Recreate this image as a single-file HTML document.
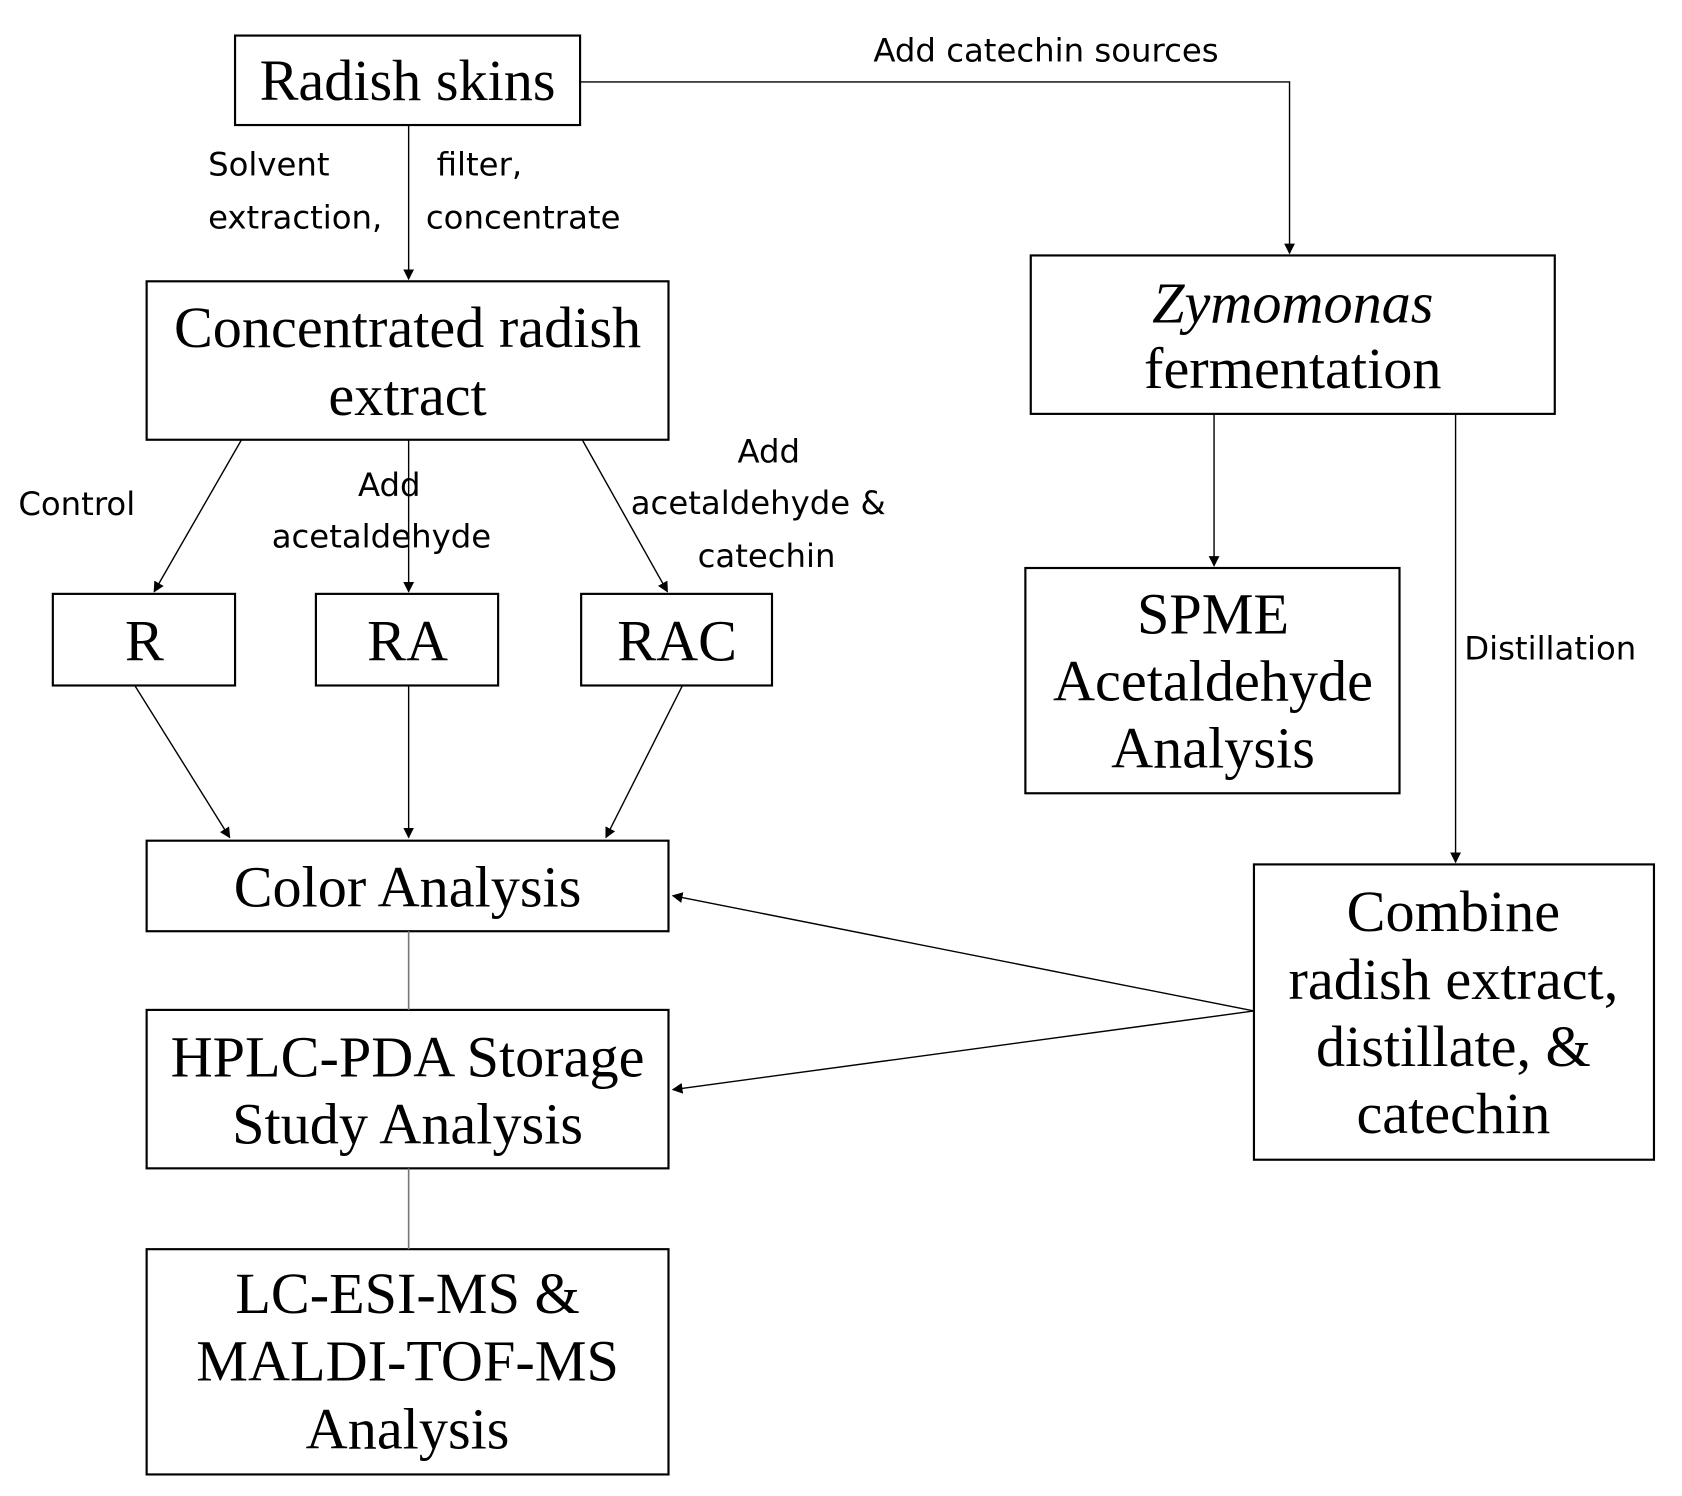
<!DOCTYPE html>
<html><head><style>html,body{margin:0;padding:0;background:#fff}svg{display:block}</style></head>
<body>
<svg width="1682" height="1496" viewBox="0 0 1560 1388" preserveAspectRatio="none" xmlns="http://www.w3.org/2000/svg">
<defs><marker id="a" markerWidth="10" markerHeight="10" refX="9" refY="5" orient="auto" markerUnits="userSpaceOnUse"><path d="M0,0 L10,5 L0,10 z" fill="#000"/></marker></defs>
<g fill="none" stroke="#000" stroke-width="2">
<rect x="218" y="33" width="320" height="83"/>
<rect x="136" y="261" width="484" height="147"/>
<rect x="956" y="237" width="486" height="147"/>
<rect x="49" y="551" width="169" height="85"/>
<rect x="293" y="551" width="169" height="85"/>
<rect x="539" y="551" width="177" height="85"/>
<rect x="136" y="780" width="484" height="84"/>
<rect x="136" y="937" width="484" height="147"/>
<rect x="136" y="1159" width="484" height="209"/>
<rect x="951" y="527" width="347" height="209"/>
<rect x="1163" y="802" width="371" height="274"/>
</g>
<g fill="none" stroke="#000" stroke-width="1.3">
<line x1="379" y1="116" x2="379" y2="259" marker-end="url(#a)"/>
<polyline points="538,76 1196,76 1196,235" marker-end="url(#a)"/>
<line x1="224" y1="408" x2="143" y2="549" marker-end="url(#a)"/>
<line x1="379" y1="408" x2="379" y2="549" marker-end="url(#a)"/>
<line x1="540" y1="408" x2="619" y2="549" marker-end="url(#a)"/>
<line x1="125" y1="636" x2="213" y2="777" marker-end="url(#a)"/>
<line x1="379" y1="636" x2="379" y2="777" marker-end="url(#a)"/>
<line x1="633" y1="636" x2="562" y2="777" marker-end="url(#a)"/>
<line x1="1126" y1="384" x2="1126" y2="525" marker-end="url(#a)"/>
<line x1="1350" y1="384" x2="1350" y2="800" marker-end="url(#a)"/>
<line x1="1163" y1="938" x2="624" y2="831" marker-end="url(#a)"/>
<line x1="1163" y1="938" x2="624" y2="1011" marker-end="url(#a)"/>
</g>
<g stroke="#777" stroke-width="1.5">
<line x1="379" y1="864" x2="379" y2="937"/>
<line x1="379" y1="1084" x2="379" y2="1159"/>
</g>
<g font-family="Liberation Serif, serif" font-size="54" text-anchor="middle" fill="#000">
<text x="378" y="93">Radish skins</text>
<text x="378" y="322">Concentrated radish</text>
<text x="378" y="385">extract</text>
<text x="1199" y="299" font-style="italic">Zymomonas</text>
<text x="1199" y="360">fermentation</text>
<text x="134" y="613">R</text>
<text x="378" y="613">RA</text>
<text x="628" y="613">RAC</text>
<text x="378" y="841">Color Analysis</text>
<text x="378" y="999">HPLC-PDA Storage</text>
<text x="378" y="1061">Study Analysis</text>
<text x="378" y="1218">LC-ESI-MS &amp;</text>
<text x="378" y="1281">MALDI-TOF-MS</text>
<text x="378" y="1344">Analysis</text>
<text x="1125" y="588">SPME</text>
<text x="1125" y="650">Acetaldehyde</text>
<text x="1125" y="712">Analysis</text>
<text x="1348" y="864">Combine</text>
<text x="1348" y="927">radish extract,</text>
<text x="1348" y="989">distillate, &amp;</text>
<text x="1348" y="1051">catechin</text>
</g>
<g font-family="DejaVu Sans, sans-serif" font-size="30" fill="#000">
<text x="810" y="57">Add catechin sources</text>
<text x="193" y="163">Solvent</text>
<text x="405" y="163">filter,</text>
<text x="193" y="212">extraction,</text>
<text x="395" y="212">concentrate</text>
<text x="17" y="478">Control</text>
<text x="332" y="460">Add</text>
<text x="252" y="508">acetaldehyde</text>
<text x="684" y="429">Add</text>
<text x="585" y="477">acetaldehyde &amp;</text>
<text x="647" y="526">catechin</text>
<text x="1358" y="612">Distillation</text>
</g>
</svg>
</body></html>
